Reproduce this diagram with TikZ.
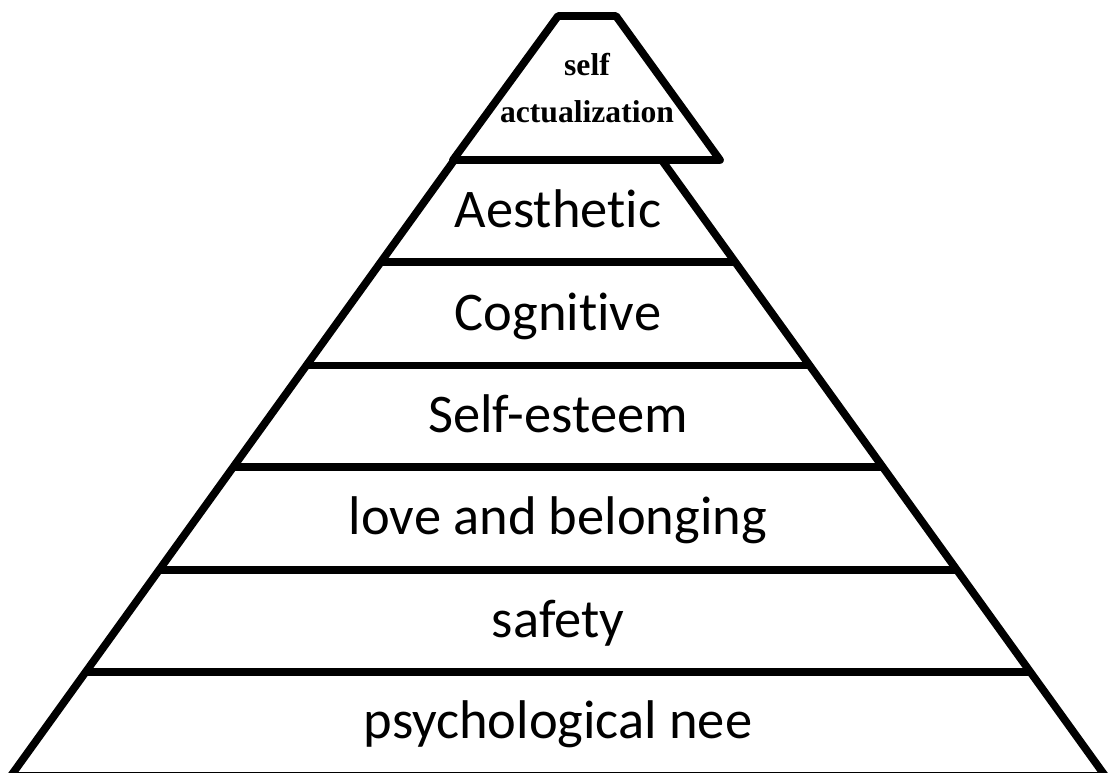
\documentclass[tikz,border=0pt]{standalone}
\usepackage{fontspec}
\setmainfont{Liberation Serif}
\newfontfamily\levelfont[Ligatures=NoCommon]{Carlito}
\usetikzlibrary{calc}
\tikzset{
    edge/.style={line width=4.4pt, line join=round},
    level/.style={anchor=base, inner sep=0pt, font=\levelfont\fontsize{31}{37}\selectfont},
    peak/.style={anchor=base, inner sep=0pt, align=center, font=\bfseries\fontsize{18}{26.7}\selectfont},
}

\begin{document}
\begin{tikzpicture}[x=0.02cm, y=-0.02cm]

    \useasboundingbox (0,0) rectangle (1108,772);

    % Corners
    \coordinate (bl)   at (10.8,776);
    \coordinate (br)   at (1105.2,776);
    \coordinate (apex) at (558,16);
    \coordinate (tl)   at ($(bl)!0.8105!(apex)$);
    \coordinate (tr)   at ($(br)!0.8105!(apex)$);

    % Pyramid
    \draw [edge] (tl) -- (bl) -- (br) -- (tr);
    \foreach \f in {0.1368, 0.2711, 0.4066, 0.5401, 0.6763} {
        \draw [edge] ($(bl)!\f!(apex)$) -- ($(br)!\f!(apex)$);
    }

    % Top
    \draw [edge] (453,160) -- (558,16) -- (616,16) -- (720,160) -- cycle;

    % Labels
    \node (top) [peak]  at (587,122) {self\\actualization};
    \node (l6)  [level] at (558,227) {Aesthetic};
    \node (l5)  [level] at (558,330) {Cognitive};
    \node (l4)  [level] at (558,432) {Self-esteem};
    \node (l3)  [level] at (558,534) {love and belonging};
    \node (l2)  [level] at (558,637) {safety};
    \node (l1)  [level] at (558,738) {psychological nee};

\end{tikzpicture}
\end{document}
